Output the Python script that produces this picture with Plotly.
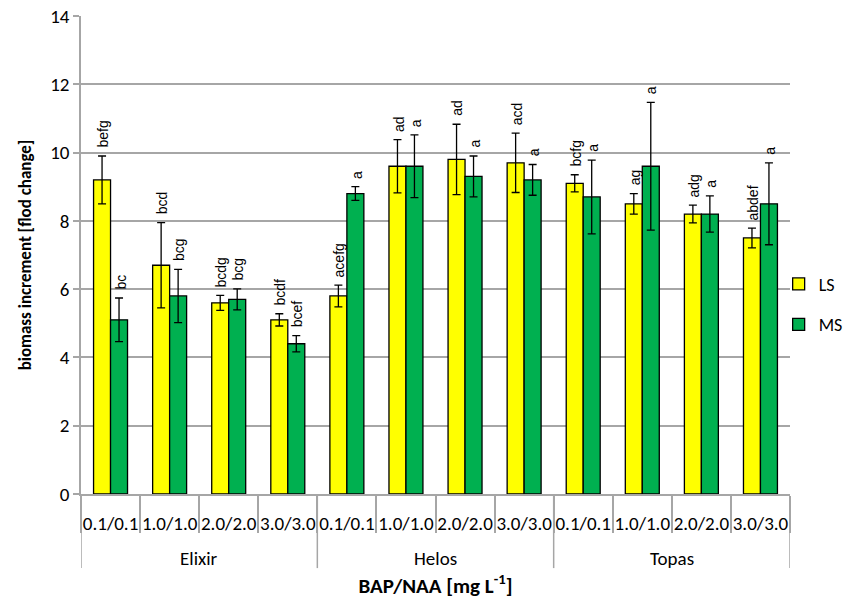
import plotly.graph_objects as go

cultivars = ["Elixir", "Helos", "Topas"]
doses = ["0.1/0.1", "1.0/1.0", "2.0/2.0", "3.0/3.0"]

ls_values = [9.2, 6.7, 5.6, 5.1, 5.8, 9.6, 9.8, 9.7, 9.1, 8.5, 8.2, 7.5]
ls_errors = [0.7, 1.25, 0.22, 0.18, 0.32, 0.78, 1.03, 0.87, 0.25, 0.3, 0.26, 0.29]
ls_letters = ["befg", "bcd", "bcdg", "bcdf", "acefg", "ad", "ad", "acd", "bcfg", "ag", "adg", "abdef"]

ms_values = [5.1, 5.8, 5.7, 4.4, 8.8, 9.6, 9.3, 9.2, 8.7, 9.6, 8.2, 8.5]
ms_errors = [0.64, 0.78, 0.31, 0.24, 0.2, 0.92, 0.6, 0.45, 1.08, 1.87, 0.53, 1.2]
ms_letters = ["bc", "bcg", "bcg", "bcef", "a", "a", "a", "a", "a", "a", "a", "a"]

n_dose = len(doses)
n_cat = len(cultivars) * n_dose
x_idx = list(range(n_cat))
tick_labels = [d for _ in cultivars for d in doses]

BARGAP = 0.425
bar_w = (1 - BARGAP) / 2
label_font = "Carlito, Liberation Sans Narrow, Roboto Condensed, Roboto, sans-serif"
GRID = "#a6a6a6"

fig = go.Figure()
for name, vals, errs, color in [("LS", ls_values, ls_errors, "#FFFF00"),
                                ("MS", ms_values, ms_errors, "#00B050")]:
    fig.add_trace(go.Bar(
        name=name, legendgroup=name, x=x_idx, y=vals,
        marker=dict(color=color, line=dict(color="black", width=1.3)),
        error_y=dict(type="data", array=errs, visible=True, color="black",
                     thickness=1.3, width=4),
    ))

annotations = []
for i in x_idx:
    for offset, vals, errs, letters in [(-bar_w / 2, ls_values, ls_errors, ls_letters),
                                         (bar_w / 2, ms_values, ms_errors, ms_letters)]:
        annotations.append(dict(
            x=i + offset, y=vals[i] + errs[i], xref="x", yref="y",
            text=letters[i], showarrow=False, textangle=-90,
            xanchor="center", yanchor="bottom", yshift=6, xshift=1,
            font=dict(family="Liberation Sans, Arial, sans-serif", size=14, color="black"),
        ))

# cultivar (outer group) labels and dividers
shapes = []
for g, cv in enumerate(cultivars):
    centre = g * n_dose + (n_dose - 1) / 2
    annotations.append(dict(
        x=centre, y=-0.134, xref="x", yref="paper", text=cv, showarrow=False,
        xanchor="center", yanchor="middle",
        font=dict(family=label_font, size=19, color="black"),
    ))
for g in range(len(cultivars) + 1):
    xb = g * n_dose - 0.5
    shapes.append(dict(type="line", xref="x", yref="paper", x0=xb, x1=xb,
                       y0=0, y1=-0.155, line=dict(color=GRID, width=1.5)))

boundaries = [i - 0.5 for i in range(n_cat + 1)]

fig.update_layout(
    width=852, height=601,
    margin=dict(l=81, r=62, t=16, b=107, autoexpand=False),
    paper_bgcolor="white", plot_bgcolor="white",
    barmode="group", bargap=BARGAP, bargroupgap=0,
    showlegend=True,
    legend=dict(x=0.984, xanchor="left", y=0.397, yanchor="middle",
                font=dict(family=label_font, size=18, color="black"),
                tracegroupgap=14, bgcolor="rgba(0,0,0,0)", itemwidth=30),
    annotations=annotations,
    shapes=shapes,
    xaxis=dict(
        range=[-0.5, n_cat - 0.5], automargin=False,
        tickmode="array", tickvals=x_idx, ticktext=tick_labels,
        ticks="outside", ticklen=11, tickcolor="rgba(0,0,0,0)",
        minor=dict(tickmode="array", tickvals=boundaries, ticks="outside",
                   ticklen=37, tickcolor=GRID, tickwidth=1.5, showgrid=False),
        showline=True, linecolor=GRID, linewidth=1.5,
        tickfont=dict(family=label_font, size=19, color="black"),
        title=dict(text="<b>BAP/NAA [mg L<sup>-1</sup>]</b>",
                   font=dict(family=label_font, size=21, color="black"), standoff=45),
        showgrid=False, zeroline=False,
    ),
    yaxis=dict(
        range=[0, 14], dtick=2, tick0=0, automargin=False,
        showgrid=True, gridcolor=GRID, gridwidth=1.5,
        showline=True, linecolor=GRID, linewidth=1.5,
        ticks="outside", ticklen=6, tickcolor=GRID, tickwidth=1.5,
        zeroline=False,
        tickfont=dict(family=label_font, size=19, color="black"),
        title=dict(text="<b>biomass increment [flod change]</b>",
                   font=dict(family=label_font, size=17, color="black"), standoff=14),
    ),
)

fig.write_html("out.html", config={"displayModeBar": False},
               post_script="document.body.style.margin='0';document.body.style.padding='0';")
